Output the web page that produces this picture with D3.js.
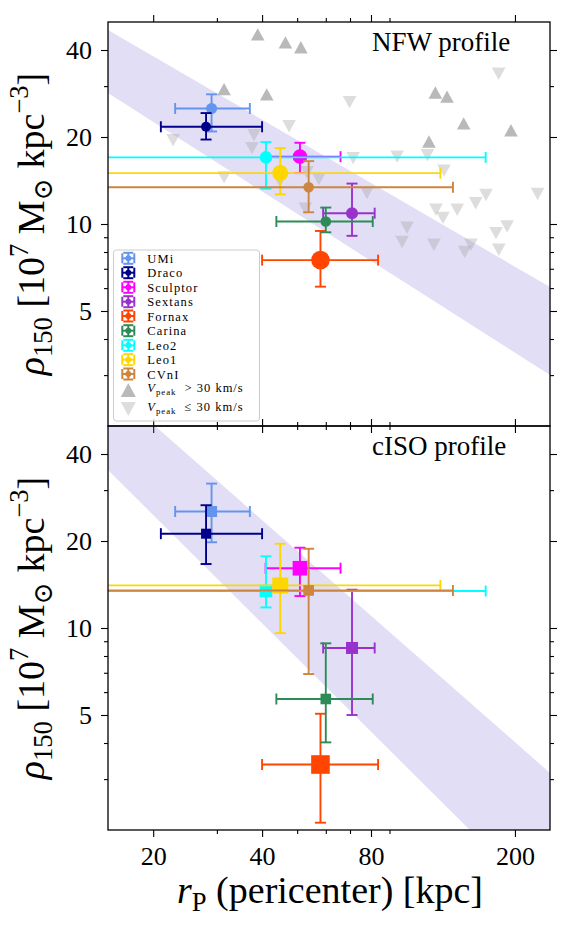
<!DOCTYPE html>
<html>
<head>
<meta charset="utf-8">
<script src="https://cdn.jsdelivr.net/npm/d3@7"></script>
<style>
  body { margin: 0; background: #fff; }
  text { font-family: "Liberation Serif", "DejaVu Serif", serif; }
</style>
</head>
<body>
<div id="chart"></div>
<script>
// ---------------------- data ----------------------
var galaxies = ["UMi", "Draco", "Sculptor", "Sextans", "Fornax", "Carina", "Leo2", "Leo1", "CVnI"];
var galaxyColors = ["#6495ED", "#00008B", "#FF00FF", "#9932CC", "#FF4500", "#2E8B57", "#00FFFF", "#FFD700", "#CD853F"];
var markerRadius = [5.5, 5, 7.3, 6, 9.3, 5.3, 6.3, 8, 5.3];

// pericenter [kpc] with lower / upper ends of the error bar
var rp   = [29.0, 28.0, 50.9, 70.9, 58.0, 60.0, 41.0, 44.9, 53.8];
var rpLo = [23.0, 21.0, 40.9, 59.0, 40.0, 43.8, 5, 5, 5];
var rpHi = [37.0, 40.0, 65.9, 81.9, 83.7, 80.9, 166, 124.4, 134.8];

// rho_150 [1e7 Msun/kpc^3], NFW fits
var rhoNFW   = [25.1, 21.7, 17.1, 10.9, 7.5, 10.2, 17.0, 15.0, 13.4];
var rhoNFWLo = [20.9, 19.6, 15.0, 9.1, 6.07, 9.36, 13.25, 12.67, 10.98];
var rhoNFWHi = [28.1, 24.2, 19.1, 13.8, 9.46, 11.4, 19.2, 18.3, 16.5];

// rho_150, cISO fits
var rhoISO   = [25.3, 21.2, 16.1, 8.53, 3.37, 5.68, 13.43, 14.04, 13.49];
var rhoISOLo = [19.8, 16.65, 12.9, 5.0, 2.12, 4.02, 11.78, 9.6, 6.93];
var rhoISOHi = [31.6, 26.6, 18.96, 13.57, 5.05, 8.85, 17.7, 19.57, 18.8];

// simulated subhaloes, Vpeak > 30 km/s
var highR   = [38.9, 46.4, 51.2, 31.4, 41.2, 120.5, 129.8, 144.3, 195, 115.7];
var highRho = [45.3, 42.5, 40.9, 29.3, 28.1, 28.5, 27.6, 22.3, 21.1, 19.3];
// simulated subhaloes, Vpeak <= 30 km/s
var lowR   = [22.7, 47.5, 38.0, 37.5, 31.4, 44.8, 53.2, 57.4, 52.7, 69.8, 180.3, 71.4, 94.5, 114.6, 127.3,
              78.0, 166.3, 231, 155.8, 121, 126.5, 138.5, 190.3, 177.3, 100.6, 97.5, 119.4, 151.2, 145.2, 180.5];
var lowRho = [19.5, 21.8, 20.3, 18.3, 14.5, 14.1, 15.1, 14.3, 11.3, 26.4, 33.1, 16.9, 17.1, 17.3, 15.3,
              12.8, 12.6, 12.7, 11.8, 11.2, 10.5, 11.2, 9.8, 9.3, 9.7, 8.66, 8.48, 8.48, 8.0, 8.15];

// fitted relation bands (edges at the two ends of the x range)
var bandR = [15, 250];
var nfwBandLo = [28.4, 3.0];
var nfwBandHi = [46.9, 6.05];
var isoBandLo = [35.2, 1.06];
var isoBandHi = [69.5, 3.15];

// ticks
var xMajor = [20, 40, 80, 200];
var xMinor = [30, 50, 60, 70, 90];
var yMajor = [5, 10, 20, 40];
var yMinor = [3, 4, 6, 7, 8, 9, 30];

// ---------------------- layout ----------------------
var W = 573, H = 934;
var left = 108, right = 550;

var svg = d3.select("#chart").append("svg")
     .attr("width", W)
     .attr("height", H);

var x = d3.scaleLog().domain([15, 250]).range([left, right]);

function richText(sel, parts, size) {
  var shift = 0;
  parts.forEach(function (p) {
    var target = p.sub ? size * 0.22 : (p.sup ? -size * 0.42 : 0);
    var ts = sel.append("tspan").text(p.t).attr("dy", target - shift);
    if (p.sub || p.sup) ts.attr("font-size", size * 0.7);
    if (p.i) ts.style("font-style", "italic");
    if (p.dx) ts.attr("dx", p.dx);
    shift = target;
  });
}

function drawPanel(top, bottom, rho, rhoLo, rhoHi, bandLo, bandHi, square, title, showX, id) {
  var y = d3.scaleLog().domain([2, 50]).range([bottom, top]);
  var g = svg.append("g");

  g.append("clipPath").attr("id", "clip" + id)
     .append("rect").attr("x", left).attr("y", top)
     .attr("width", right - left).attr("height", bottom - top);
  var plot = g.append("g").attr("clip-path", "url(#clip" + id + ")");

  // band
  var band = bandR.map(function (r, i) { return [x(r), y(bandHi[i])]; })
     .concat(bandR.map(function (r, i) { return [x(r), y(bandLo[i])]; }).reverse());
  plot.append("path")
     .attr("d", d3.line()(band) + "Z")
     .attr("fill", "slateblue")
     .attr("fill-opacity", 0.2);

  // subhalo triangles (NFW panel only)
  if (!square) {
    plot.selectAll("path.low").data(lowR).enter().append("path")
       .attr("class", "low")
       .attr("d", "M-6.8,-6.2L6.8,-6.2L0,6.2Z")
       .attr("transform", function (d, i) { return "translate(" + x(d) + "," + y(lowRho[i]) + ")"; })
       .attr("fill", "#a9a9a9").attr("fill-opacity", 0.4);
    plot.selectAll("path.high").data(highR).enter().append("path")
       .attr("class", "high")
       .attr("d", "M0,-6.2L6.8,6.2L-6.8,6.2Z")
       .attr("transform", function (d, i) { return "translate(" + x(d) + "," + y(highRho[i]) + ")"; })
       .attr("fill", "#808080").attr("fill-opacity", 0.55);
  }

  // error bars + markers
  galaxies.forEach(function (name, i) {
    var c = galaxyColors[i];
    var eb = plot.append("g").attr("stroke", c).attr("stroke-width", 1.9).attr("fill", "none");
    var cx = x(rp[i]), cy = y(rho[i]);
    var cap = 5.5;
    eb.append("line").attr("x1", x(rpLo[i])).attr("x2", x(rpHi[i])).attr("y1", cy).attr("y2", cy);
    eb.append("line").attr("x1", cx).attr("x2", cx).attr("y1", y(rhoLo[i])).attr("y2", y(rhoHi[i]));
    [rpLo[i], rpHi[i]].forEach(function (v) {
      eb.append("line").attr("x1", x(v)).attr("x2", x(v)).attr("y1", cy - cap).attr("y2", cy + cap);
    });
    [rhoLo[i], rhoHi[i]].forEach(function (v) {
      eb.append("line").attr("x1", cx - cap).attr("x2", cx + cap).attr("y1", y(v)).attr("y2", y(v));
    });
    var r = markerRadius[i];
    if (square) {
      plot.append("rect").attr("x", cx - r).attr("y", cy - r)
         .attr("width", 2 * r).attr("height", 2 * r).attr("fill", c);
    } else {
      plot.append("circle").attr("cx", cx).attr("cy", cy).attr("r", r).attr("fill", c);
    }
  });

  // axes (ticks outward on all four sides)
  var fmt = function (d) { return d; };
  function addAxis(axisFn, scale, vals, size, labels, transform, pad) {
    var a = axisFn(scale).tickValues(vals).tickSize(size).tickPadding(pad || 3)
       .tickFormat(labels ? fmt : "");
    var ag = g.append("g").attr("transform", transform).call(a);
    ag.select(".domain").remove();
    ag.selectAll("line").attr("stroke", "#000").attr("stroke-width", 1.1);
    ag.selectAll("text").style("font-family", "'Liberation Serif', serif").style("font-size", "26px").attr("fill", "#000");
  }
  addAxis(d3.axisBottom, x, xMajor, 7, showX, "translate(0," + bottom + ")", 10);
  addAxis(d3.axisBottom, x, xMinor, 4, false, "translate(0," + bottom + ")");
  addAxis(d3.axisTop, x, xMajor, 7, false, "translate(0," + top + ")");
  addAxis(d3.axisTop, x, xMinor, 4, false, "translate(0," + top + ")");
  addAxis(d3.axisLeft, y, yMajor, 7, true, "translate(" + left + ",0)", 9);
  addAxis(d3.axisLeft, y, yMinor, 4, false, "translate(" + left + ",0)");
  addAxis(d3.axisRight, y, yMajor, 7, false, "translate(" + right + ",0)");
  addAxis(d3.axisRight, y, yMinor, 4, false, "translate(" + right + ",0)");

  g.append("rect").attr("x", left).attr("y", top)
     .attr("width", right - left).attr("height", bottom - top)
     .attr("fill", "none").attr("stroke", "#000").attr("stroke-width", 1.3);

  // panel title
  g.append("text").attr("x", 372).attr("y", top + 29)
     .style("font-size", "27px").text(title);

  // y label
  var yl = g.append("text")
     .attr("transform", "translate(44," + ((top + bottom) / 2) + ") rotate(-90)")
     .attr("text-anchor", "middle")
     .style("font-size", "38px");
  richText(yl, [
    {t: "ρ", i: true}, {t: "150", sub: true},
    {t: " [10"}, {t: "7", sup: true},
    {t: " M"}, {t: "⊙", sub: true},
    {t: " kpc"}, {t: "−3", sup: true}, {t: "]"}
  ], 38);

  return y;
}

drawPanel(22, 426, rhoNFW, rhoNFWLo, rhoNFWHi, nfwBandLo, nfwBandHi, false, "NFW profile", false, "a");
drawPanel(426, 830, rhoISO, rhoISOLo, rhoISOHi, isoBandLo, isoBandHi, true, "cISO profile", true, "b");

// x label
var xl = svg.append("text").attr("x", 330).attr("y", 903)
     .attr("text-anchor", "middle").style("font-size", "38px");
richText(xl, [{t: "r", i: true}, {t: "P", sub: true}, {t: " (pericenter) [kpc]"}], 38);

// ---------------------- legend ----------------------
var leg = svg.append("g");
leg.append("rect").attr("x", 113.5).attr("y", 250).attr("width", 146).attr("height", 171)
     .attr("rx", 3).attr("fill", "#fff").attr("fill-opacity", 0.8)
     .attr("stroke", "#cccccc").attr("stroke-width", 1);

var rowY = [258.3, 272.7, 287.3, 301.7, 316, 330.7, 345.3, 359.7, 374, 390, 409];
galaxies.forEach(function (name, i) {
  var ic = leg.append("g").attr("transform", "translate(128.3," + rowY[i] + ")")
     .attr("stroke", galaxyColors[i]).attr("stroke-width", 2);
  ic.append("line").attr("x1", -6).attr("x2", 6).attr("y1", 0).attr("y2", 0);
  ic.append("line").attr("x1", 0).attr("x2", 0).attr("y1", -5.5).attr("y2", 5.5);
  ic.append("line").attr("x1", -6).attr("x2", -6).attr("y1", -5).attr("y2", 5);
  ic.append("line").attr("x1", 6).attr("x2", 6).attr("y1", -5).attr("y2", 5);
  ic.append("line").attr("x1", -5).attr("x2", 5).attr("y1", -5.5).attr("y2", -5.5);
  ic.append("line").attr("x1", -5).attr("x2", 5).attr("y1", 5.5).attr("y2", 5.5);
  ic.append("circle").attr("r", 3).attr("fill", galaxyColors[i]).attr("stroke", "none");
  leg.append("text").attr("x", 147.3).attr("y", rowY[i] + 4.5)
     .style("font-size", "12.5px").style("letter-spacing", "1.1px").text(name);
});

leg.append("path").attr("d", "M0,-7L7.5,7L-7.5,7Z")
     .attr("transform", "translate(128.3," + rowY[9] + ")")
     .attr("fill", "#808080").attr("fill-opacity", 0.55);
leg.append("path").attr("d", "M-7.5,-7L7.5,-7L0,7Z")
     .attr("transform", "translate(128.3," + rowY[10] + ")")
     .attr("fill", "#a9a9a9").attr("fill-opacity", 0.4);

var t1 = leg.append("text").attr("x", 147.3).attr("y", rowY[9] + 2)
     .style("font-size", "12.5px").style("letter-spacing", "1px");
richText(t1, [{t: "V", i: true}, {t: "peak", sub: true}, {t: " > 30 km/s", dx: 4}], 12.5);
var t2 = leg.append("text").attr("x", 147.3).attr("y", rowY[10] + 2)
     .style("font-size", "12.5px").style("letter-spacing", "1px");
richText(t2, [{t: "V", i: true}, {t: "peak", sub: true}, {t: " ≤ 30 km/s", dx: 4}], 12.5);
</script>
</body>
</html>
